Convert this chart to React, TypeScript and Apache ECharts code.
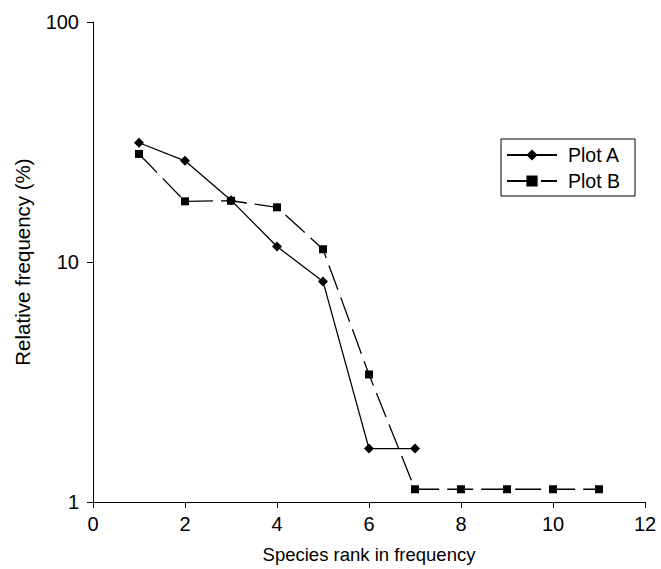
import React, { useEffect, useRef } from "react";
import * as echarts from "echarts";

const ranksA = [1, 2, 3, 4, 5, 6, 7];
const valuesA = [31.4, 26.4, 18.1, 11.6, 8.3, 1.67, 1.67];
const ranksB = [1, 2, 3, 4, 5, 6, 7, 8, 9, 10, 11];
const valuesB = [28.2, 17.9, 18.0, 16.9, 11.3, 3.4, 1.13, 1.13, 1.13, 1.13, 1.13];
const seriesNames = ["Plot A", "Plot B"];
const xTitle = "Species rank in frequency";
const yTitle = "Relative frequency (%)";

const FONT = "Liberation Sans, Arial, Helvetica, sans-serif";

export default function App() {
  const ref = useRef<HTMLDivElement>(null);
  useEffect(() => {
    if (!ref.current) return;
    const chart = echarts.init(ref.current, undefined, { renderer: "svg" });
    const base = { color: "#000", fontFamily: FONT };
    chart.setOption({
      animation: false,
      backgroundColor: "#fff",
      textStyle: { fontFamily: FONT },
      grid: { left: 93, top: 22, width: 552, height: 480, containLabel: false },
      legend: {
        orient: "vertical",
        left: 501,
        top: 139,
        padding: [6, 15, 5, 5],
        itemGap: 6,
        itemWidth: 50,
        itemHeight: 14,
        borderColor: "#000",
        borderWidth: 1,
        borderRadius: 0,
        backgroundColor: "#fff",
        textStyle: { ...base, fontSize: 19.5, lineHeight: 20, padding: [0, 0, 0, 6] },
        data: seriesNames,
      },
      xAxis: {
        type: "value",
        min: 0,
        max: 12,
        interval: 2,
        name: xTitle,
        nameLocation: "middle",
        nameGap: 43,
        nameTextStyle: { ...base, fontSize: 18.5 },
        axisLine: { show: true, onZero: false, lineStyle: { color: "#000", width: 1 } },
        axisTick: { show: true, length: 6, lineStyle: { color: "#000" } },
        axisLabel: { ...base, fontSize: 20, margin: 12 },
        splitLine: { show: false },
      },
      yAxis: {
        type: "log",
        logBase: 10,
        min: 1,
        max: 100,
        name: yTitle,
        nameLocation: "middle",
        nameGap: 60,
        nameTextStyle: { ...base, fontSize: 20.5 },
        axisLine: { show: true, lineStyle: { color: "#000", width: 1 } },
        axisTick: { show: true, length: 6, lineStyle: { color: "#000" } },
        axisLabel: { ...base, fontSize: 20, margin: 14 },
        splitLine: { show: false },
        minorTick: { show: false },
      },
      series: [
        {
          name: seriesNames[0],
          type: "line",
          data: ranksA.map((r, i) => [r, valuesA[i]]),
          symbol: "diamond",
          symbolSize: 10,
          itemStyle: { color: "#000" },
          lineStyle: { color: "#000", width: 1.3, type: "solid" },
          z: 3,
        },
        {
          name: seriesNames[1],
          type: "line",
          data: ranksB.map((r, i) => [r, valuesB[i]]),
          symbol: "rect",
          symbolSize: 8,
          itemStyle: { color: "#000" },
          lineStyle: { color: "#000", width: 1.3, type: [26, 8] },
          z: 2,
        },
      ],
    });
    return () => chart.dispose();
  }, []);
  return (
    <div
      ref={ref}
      style={{ position: "fixed", left: 0, top: 0, width: 661, height: 569 }}
    />
  );
}
